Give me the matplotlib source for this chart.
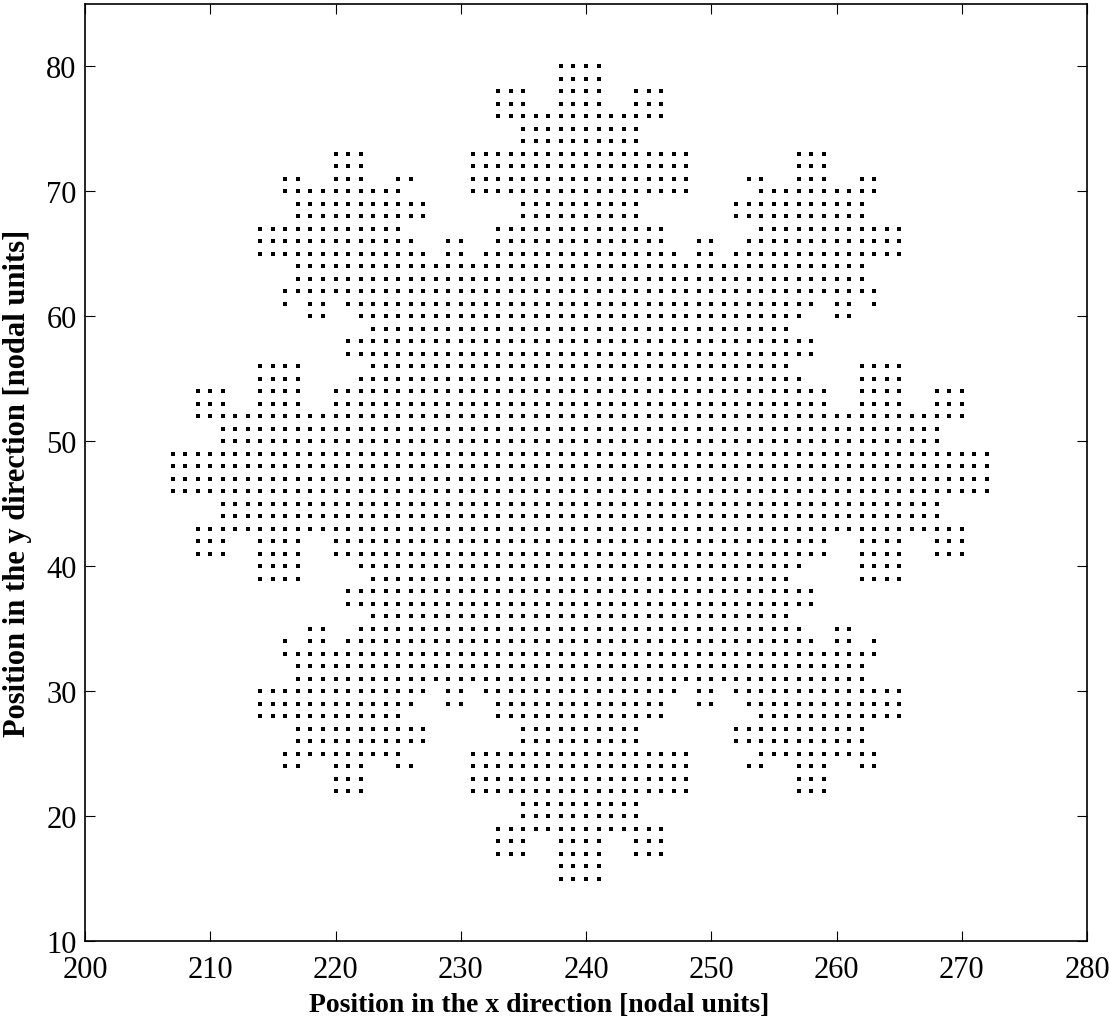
import matplotlib
matplotlib.use("Agg")
import matplotlib.pyplot as plt

# Occupied lattice nodes, listed row by row (y value, then inclusive x spans)
y_rows = [80, 79, 78, 77, 76, 75, 74, 73, 72, 71, 70, 69, 68, 67, 66, 65,
          64, 63, 62, 61, 60, 59, 58, 57, 56, 55, 54, 53, 52, 51, 50, 49,
          48, 47, 46, 45, 44, 43, 42, 41, 40, 39, 38, 37, 36, 35, 34, 33,
          32, 31, 30, 29, 28, 27, 26, 25, 24, 23, 22, 21, 20, 19, 18, 17,
          16, 15]

x_spans = [
    [(238, 241)],                                                   # 80
    [(238, 241)],                                                   # 79
    [(233, 235), (238, 241), (244, 246)],                           # 78
    [(233, 235), (238, 241), (244, 246)],                           # 77
    [(233, 246)],                                                   # 76
    [(235, 244)],                                                   # 75
    [(235, 244)],                                                   # 74
    [(220, 222), (231, 248), (257, 259)],                           # 73
    [(220, 222), (231, 248), (257, 259)],                           # 72
    [(216, 217), (220, 222), (225, 226), (231, 248), (253, 254),
     (257, 259), (262, 263)],                                       # 71
    [(216, 225), (231, 248), (254, 263)],                           # 70
    [(217, 227), (235, 244), (252, 262)],                           # 69
    [(217, 227), (235, 244), (252, 262)],                           # 68
    [(214, 225), (233, 246), (254, 265)],                           # 67
    [(214, 226), (229, 230), (233, 246), (249, 250), (253, 265)],   # 66
    [(214, 227), (229, 230), (232, 247), (249, 250), (252, 265)],   # 65
    [(217, 262)],                                                   # 64
    [(217, 262)],                                                   # 63
    [(216, 263)],                                                   # 62
    [(216, 216), (218, 219), (221, 258), (260, 261), (263, 263)],   # 61
    [(218, 219), (222, 257), (260, 261)],                           # 60
    [(223, 256)],                                                   # 59
    [(221, 258)],                                                   # 58
    [(221, 258)],                                                   # 57
    [(214, 217), (223, 256), (262, 265)],                           # 56
    [(214, 217), (222, 257), (262, 265)],                           # 55
    [(209, 211), (214, 217), (220, 259), (262, 265), (268, 270)],   # 54
    [(209, 211), (214, 217), (220, 259), (262, 265), (268, 270)],   # 53
    [(209, 270)],                                                   # 52
    [(211, 268)],                                                   # 51
    [(211, 268)],                                                   # 50
    [(207, 272)],                                                   # 49
    [(207, 272)],                                                   # 48
    [(207, 272)],                                                   # 47
    [(207, 272)],                                                   # 46
    [(211, 268)],                                                   # 45
    [(211, 268)],                                                   # 44
    [(209, 270)],                                                   # 43
    [(209, 211), (214, 217), (220, 259), (262, 265), (268, 270)],   # 42
    [(209, 211), (214, 217), (220, 259), (262, 265), (268, 270)],   # 41
    [(214, 217), (222, 257), (262, 265)],                           # 40
    [(214, 217), (223, 256), (262, 265)],                           # 39
    [(221, 258)],                                                   # 38
    [(221, 258)],                                                   # 37
    [(223, 256)],                                                   # 36
    [(218, 219), (222, 257), (260, 261)],                           # 35
    [(216, 216), (218, 219), (221, 258), (260, 261), (263, 263)],   # 34
    [(216, 263)],                                                   # 33
    [(217, 262)],                                                   # 32
    [(217, 262)],                                                   # 31
    [(214, 227), (229, 230), (232, 247), (249, 250), (252, 265)],   # 30
    [(214, 226), (229, 230), (233, 246), (249, 250), (253, 265)],   # 29
    [(214, 225), (233, 246), (254, 265)],                           # 28
    [(217, 227), (235, 244), (252, 262)],                           # 27
    [(217, 227), (235, 244), (252, 262)],                           # 26
    [(216, 225), (231, 248), (254, 263)],                           # 25
    [(216, 217), (220, 222), (225, 226), (231, 248), (253, 254),
     (257, 259), (262, 263)],                                       # 24
    [(220, 222), (231, 248), (257, 259)],                           # 23
    [(220, 222), (231, 248), (257, 259)],                           # 22
    [(235, 244)],                                                   # 21
    [(235, 244)],                                                   # 20
    [(233, 246)],                                                   # 19
    [(233, 235), (238, 241), (244, 246)],                           # 18
    [(233, 235), (238, 241), (244, 246)],                           # 17
    [(238, 241)],                                                   # 16
    [(238, 241)],                                                   # 15
]

x_ticks = [200, 210, 220, 230, 240, 250, 260, 270, 280]
y_ticks = [10, 20, 30, 40, 50, 60, 70, 80]

# Expand the spans into individual node coordinates
xs, ys = [], []
for y, spans in zip(y_rows, x_spans):
    for a, b in spans:
        for x in range(a, b + 1):
            xs.append(x)
            ys.append(y)

plt.rcParams['font.family'] = ['Liberation Serif', 'DejaVu Serif']

W, H = 1109, 1020
fig = plt.figure(figsize=(W / 100, H / 100), dpi=100)
ax = fig.add_axes([85 / W, 1 - 942 / H, 1002 / W, 937.5 / H])

ax.plot(xs, ys, linestyle='none', marker='s', markersize=3.5,
        markerfacecolor='black', markeredgewidth=0, color='black')

ax.set_xlim(200, 280)
ax.set_ylim(10, 85)
ax.set_xticks(x_ticks)
ax.set_yticks(y_ticks)
ax.tick_params(direction='in', length=7, width=0.8, labelsize=22,
               top=True, right=True)
ax.tick_params(axis='x', pad=10)
ax.tick_params(axis='y', pad=6)
for s in ax.spines.values():
    s.set_linewidth(1.2)

fig.text(539 / W, 1 - 1011.7 / H, 'Position in the x direction [nodal units]',
         ha='center', va='baseline', fontsize=20, fontweight='bold')
fig.text(3 / W, 1 - 737 / H, 'Position in the y direction [nodal units]',
         ha='left', va='bottom', rotation=90, fontsize=22, fontweight='bold')

fig.savefig('out.png', dpi=100)
